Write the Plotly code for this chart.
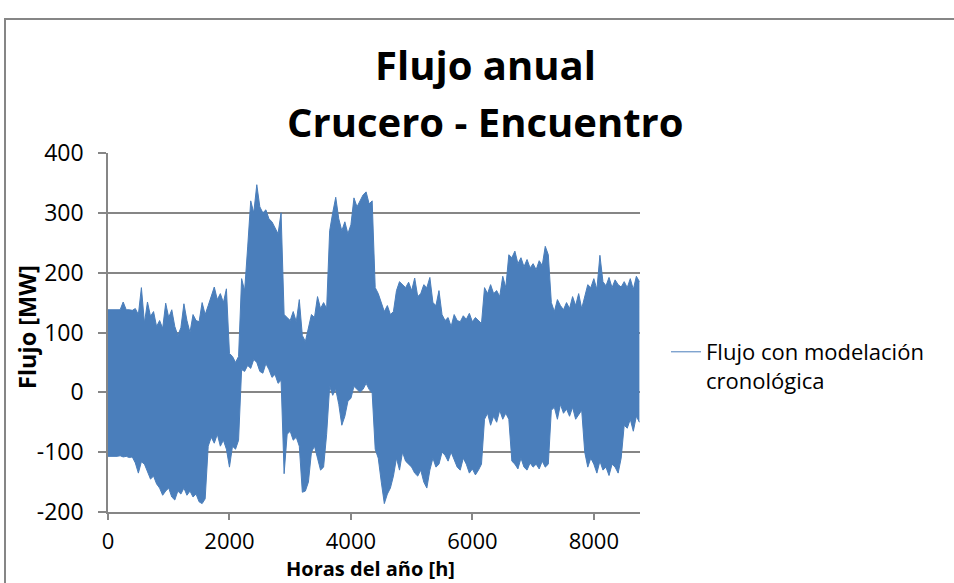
import plotly.graph_objects as go

# Hour of year for each sample (every 50 h)
hours = list(range(0, 8760, 50))

# Upper envelope of hourly flow [MW]
upper = [138, 138, 137, 138, 138, 151, 138, 138, 137, 140, 130,
         175, 116, 151, 127, 135, 110, 120, 107, 149, 125,
         138, 110, 95, 108, 148, 120, 100, 130, 120, 118,
         150, 130, 145, 160, 176, 155, 165, 150, 173, 65,
         60, 50, 60, 190, 170, 243, 320, 300, 347, 310,
         300, 305, 290, 285, 275, 265, 300, 130, 125, 120,
         135, 118, 155, 95, 85, 105, 130, 125, 160, 140,
         150, 140, 270, 300, 326, 290, 270, 285, 265, 280,
         325, 310, 320, 330, 335, 315, 320, 175, 165, 150,
         135, 145, 130, 135, 170, 185, 180, 175, 184, 170,
         191, 160, 165, 180, 175, 192, 150, 145, 170, 130,
         120, 125, 110, 130, 120, 118, 128, 122, 132, 118,
         125, 120, 115, 175, 165, 180, 165, 170, 160, 194,
         175, 230, 225, 236, 215, 225, 210, 222, 208, 215,
         205, 220, 212, 244, 230, 150, 135, 155, 145, 138,
         150, 140, 160, 145, 165, 140, 160, 180, 175, 190,
         172, 229, 185, 178, 192, 175, 188, 180, 176, 185,
         175, 190, 172, 194, 185]

# Lower envelope of hourly flow [MW]
lower = [-107, -107, -108, -107, -106, -108, -107, -109, -108, -118, -135,
         -116, -120, -133, -145, -140, -153, -160, -172, -165, -160,
         -175, -180, -165, -170, -160, -172, -165, -175, -170, -183,
         -186, -178, -90, -75, -85, -70, -90, -80, -95, -125,
         -90, -95, -80, 38, 35, 45, 40, 55, 50, 35,
         32, 48, 38, 25, 30, 15, 20, -136, -70, -65,
         -80, -75, -90, -167, -165, -150, -100, -90, -110, -130,
         -125, -70, 10, -5, 5, -20, -55, -40, -15, -10,
         10, 5, 0, 5, 15, 5, -2, -95, -110, -150,
         -186, -170, -160, -140, -110, -130, -100, -115, -120, -125,
         -135, -140, -130, -150, -160, -130, -110, -125, -120, -100,
         -105, -115, -100, -112, -125, -130, -110, -120, -135, -128,
         -138, -130, -120, -45, -35, -55, -40, -50, -30, -45,
         -35, -45, -115, -120, -128, -110, -125, -130, -118, -125,
         -120, -128, -115, -125, -120, -30, -25, -45, -20, -35,
         -28, -40, -25, -45, -38, -30, -100, -125, -110, -120,
         -135, -115, -130, -125, -139, -120, -125, -135, -110, -55,
         -60, -45, -65, -40, -50]

x_ticks = [0, 2000, 4000, 6000, 8000]
y_ticks = [-200, -100, 0, 100, 200, 300, 400]
y_tick_text = ["-200", "-100", "0", "100", "200", "300", "400"]
series_name = "Flujo con modelación<br>cronológica"

BLUE = "#4A7EBB"
GRID = "#868686"
FONT = "Open Sans"

fig = go.Figure()
fig.add_trace(go.Scatter(x=hours, y=upper, mode="lines", name=series_name,
                         line=dict(color=BLUE, width=1), showlegend=True))
fig.add_trace(go.Scatter(x=hours, y=lower, mode="lines", fill="tonexty",
                         fillcolor=BLUE, line=dict(color=BLUE, width=1),
                         showlegend=False, hoverinfo="skip"))

W, H = 954, 583
L, R, T, B = 108, 314, 153, 71
pw, ph = W - L - R, H - T - B

def px(xp):
    return (xp - L) / pw

def py(yp):
    return (H - B - yp) / ph

fig.update_layout(
    width=W, height=H,
    margin=dict(l=L, r=R, t=T, b=B, pad=0),
    paper_bgcolor="white", plot_bgcolor="white",
    font=dict(family=FONT, size=22, color="black"),
    showlegend=True,
    legend=dict(x=px(666), y=py(331), xanchor="left", yanchor="top",
                font=dict(family=FONT, size=22, color="black"),
                valign="top", bgcolor="rgba(0,0,0,0)", tracegroupgap=0),
    xaxis=dict(range=[0, 8760], tickvals=x_ticks, ticks="outside", ticklen=6,
               tickcolor=GRID, tickwidth=1.5, showgrid=False, zeroline=False,
               showline=True, linecolor=GRID, linewidth=1.5,
               tickfont=dict(family=FONT, size=22), ticklabelstandoff=3),
    yaxis=dict(range=[-200, 400], tickvals=y_ticks, ticktext=y_tick_text,
               ticks="outside", ticklen=8,
               tickcolor=GRID, tickwidth=1.5, showgrid=True, gridcolor=GRID,
               gridwidth=1.5, zeroline=False, showline=True, linecolor=GRID,
               linewidth=1.5, tickfont=dict(family=FONT, size=23),
               ticklabelstandoff=10),
    annotations=[
        dict(text="<b>Flujo anual</b>", x=px(485), y=py(65), xref="paper", yref="paper",
             showarrow=False, xanchor="center", yanchor="middle",
             font=dict(family=FONT, size=40, color="black")),
        dict(text="<b>Crucero - Encuentro</b>", x=px(485), y=py(121), xref="paper", yref="paper",
             showarrow=False, xanchor="center", yanchor="middle",
             font=dict(family=FONT, size=40, color="black")),
        dict(text="<b>Horas del año [h]</b>", x=px(370), y=py(568), xref="paper", yref="paper",
             showarrow=False, xanchor="center", yanchor="middle",
             font=dict(family=FONT, size=20, color="black")),
        dict(text="<b>Flujo [MW]</b>", x=px(27), y=py(327), xref="paper", yref="paper",
             showarrow=False, xanchor="center", yanchor="middle", textangle=-90,
             font=dict(family=FONT, size=23.5, color="black")),
    ],
    shapes=[
        dict(type="rect", xref="paper", yref="paper",
             x0=px(5), x1=px(970), y0=py(600), y1=py(19),
             line=dict(color=GRID, width=2), fillcolor="rgba(0,0,0,0)", layer="below"),
    ],
)

fig.write_html("out.html")
